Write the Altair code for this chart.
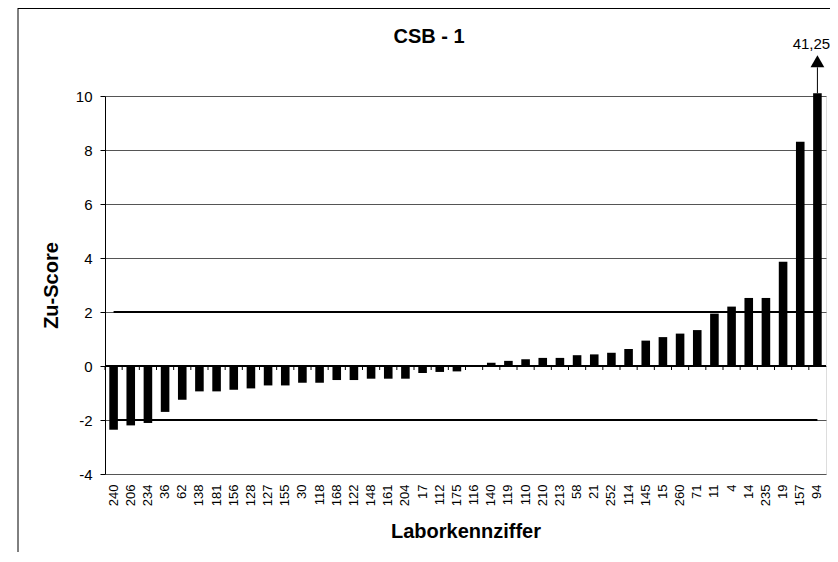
import altair as alt
import pandas as pd

labels = ["240", "206", "234", "36", "62", "138", "181", "156", "128", "127", "155",
          "30", "118", "168", "122", "148", "161", "204", "17", "112", "175", "116",
          "140", "119", "110", "210", "213", "58", "21", "252", "114", "145", "15",
          "260", "71", "11", "4", "14", "235", "19", "157", "94"]
scores = [-2.36, -2.20, -2.11, -1.70, -1.25, -0.94, -0.94, -0.88, -0.83, -0.72, -0.72,
          -0.62, -0.62, -0.52, -0.52, -0.47, -0.47, -0.47, -0.26, -0.22, -0.20, 0.0,
          0.12, 0.19, 0.25, 0.30, 0.30, 0.40, 0.43, 0.49, 0.63, 0.94, 1.07,
          1.20, 1.33, 1.94, 2.20, 2.52, 2.52, 3.86, 8.31, 41.25]
upper_limit = 2
lower_limit = -2
y_ticks = [-4, -2, 0, 2, 4, 6, 8, 10]
display_cap = 10.1
outlier_label = "94"
outlier_text = "41,25"
chart_title = "CSB - 1"

W, H = 721, 378
FONT = "Liberation Sans"
STEP = W / len(labels)

df = pd.DataFrame({"lab": labels, "score": scores})
df["upper"] = upper_limit
df["lower"] = lower_limit
out_df = pd.DataFrame({"lab": [outlier_label], "cap": [display_cap], "txt": [outlier_text]})
title_df = pd.DataFrame({"t": [chart_title]})

xscale = alt.Scale(domain=labels, paddingInner=0.5, paddingOuter=0.25)
yscale = alt.Scale(domain=[-4, 10], nice=False, zero=False)

x_axis = alt.Axis(labelAngle=-90, labelAlign="right", labelBaseline="middle",
                  labelFont=FONT, labelFontSize=13, labelColor="black",
                  labelPadding=10, ticks=False, domain=False, grid=False,
                  titleFont=FONT, titleFontSize=20, titleFontWeight="bold",
                  titleColor="black", titlePadding=16, labelOverlap=False)
y_axis = alt.Axis(values=y_ticks, labelExpr="toString(datum.value)",
                  labelFont=FONT, labelFontSize=15,
                  labelColor="black", tickColor="black", tickSize=5,
                  domainColor="black", gridColor="#555555", gridWidth=1,
                  titleFont=FONT, titleFontSize=20, titleFontWeight="bold",
                  titleColor="black", titlePadding=14, labelPadding=8)


def X(field, **kw):
    return alt.X(field, type="nominal", sort=None, scale=xscale, axis=x_axis,
                 title="Laborkennziffer", **kw)


def Y(field):
    return alt.Y(field, type="quantitative", scale=yscale, axis=y_axis, title="Zu-Score")


def Ydatum(v):
    return alt.YDatum(v, type="quantitative", scale=yscale, axis=y_axis, title="Zu-Score")


bars = alt.Chart(df).transform_calculate(
    disp=f"min(datum.score, {display_cap})"
).mark_bar(color="black").encode(x=X("lab"), y=Y("disp"))

zero_line = alt.Chart(df).mark_rule(color="black", strokeWidth=1).encode(y=Ydatum(0))
zero_ticks = alt.Chart(df).mark_rule(color="black", strokeWidth=1, y2Offset=4,
                                     xOffset=-STEP * 0.25).encode(
    x=X("lab", bandPosition=0), y=Ydatum(0), y2=alt.Y2Datum(0))

upper_line = alt.Chart(df).mark_line(color="black", strokeWidth=2).encode(
    x=X("lab"), y=Y("upper"))
lower_line = alt.Chart(df).mark_line(color="black", strokeWidth=2).encode(
    x=X("lab"), y=Y("lower"))

arrow_shaft = alt.Chart(out_df).mark_rule(color="black", strokeWidth=1, y2Offset=-26).encode(
    x=X("lab"), y=Y("cap"), y2="cap:Q")
arrow_head = alt.Chart(out_df).mark_point(shape="triangle-up", filled=True, color="black",
                                          size=190, opacity=1, yOffset=-32).encode(
    x=X("lab"), y=Y("cap"))
arrow_text = alt.Chart(out_df).mark_text(font=FONT, fontSize=15, color="black",
                                         yOffset=-49, dx=-6).encode(
    x=X("lab"), y=Y("cap"), text="txt:N")

title_mark = alt.Chart(title_df).mark_text(font=FONT, fontSize=20, fontWeight="bold",
                                           color="black", clip=False).encode(
    x=alt.value(324), y=alt.value(-59), text="t:N")

# outer chart frame (left and top edges; the rest lies beyond the picture)
frame_left = alt.Chart(title_df).mark_rule(color="black", strokeWidth=1, clip=False).encode(
    x=alt.value(-87), y=alt.value(-88), y2=alt.value(H + 78))
frame_top = alt.Chart(title_df).mark_rule(color="black", strokeWidth=1, clip=False).encode(
    x=alt.value(-87), x2=alt.value(W + 4), y=alt.value(-87.5))

chart = alt.layer(bars, zero_line, zero_ticks, upper_line, lower_line, arrow_shaft,
                  arrow_head, arrow_text, title_mark, frame_left, frame_top).properties(
    width=W, height=H,
    autosize=alt.AutoSizeParams(type="none"),
    padding={"left": 97, "top": 88, "right": 4, "bottom": 80},
).configure_view(stroke="#808080", strokeWidth=1).configure(background="white")

chart.save("out.html", embed_options={"renderer": "svg", "actions": False})
